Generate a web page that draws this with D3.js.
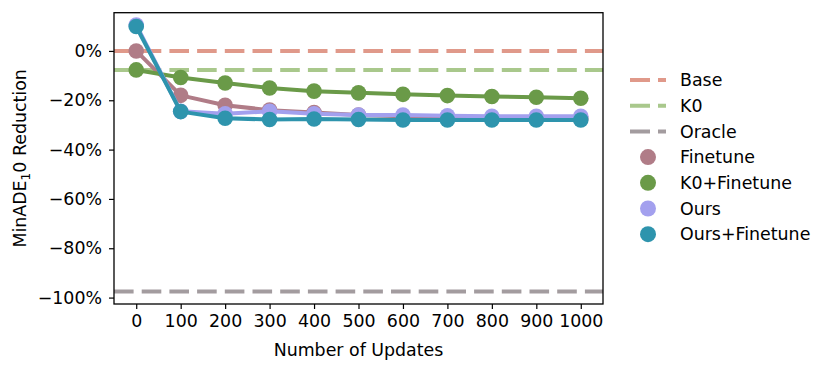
<!DOCTYPE html>
<html>
<head>
<meta charset="utf-8">
<script src="https://cdn.jsdelivr.net/npm/d3@7"></script>
<style>
  body { margin: 0; background: #fff; }
  svg { font-family: "DejaVu Sans", sans-serif; }
</style>
</head>
<body>
<div id="chart"></div>
<script>
// data
const updates = [0, 100, 200, 300, 400, 500, 600, 700, 800, 900, 1000]
const finetune = [0, -18, -22, -24, -25, -26, -26.5, -27, -27, -27, -27.5]
const k0Finetune = [-7.7, -10.8, -13, -15, -16.3, -17, -17.6, -18.1, -18.5, -18.8, -19.2]
const ours = [10.5, -24.5, -25.5, -24.5, -25.5, -26, -26, -26.3, -26.5, -26.5, -26.5]
const oursFinetune = [9.9, -24.6, -27.3, -27.8, -27.6, -27.8, -28, -28, -28, -28, -28]

const baseLevel = 0
const k0Level = -7.7
const oracleLevel = -97.5

const yTicks = [0, -20, -40, -60, -80, -100]

const refLines = [
  {name: "Base", value: baseLevel, color: "#e0998a"},
  {name: "K0", value: k0Level, color: "#a9c88c"},
  {name: "Oracle", value: oracleLevel, color: "#a39c9f"},
]
const series = [
  {name: "Finetune", values: finetune, color: "#b07c87"},
  {name: "K0+Finetune", values: k0Finetune, color: "#6a9a48"},
  {name: "Ours", values: ours, color: "#a3a0ee"},
  {name: "Ours+Finetune", values: oursFinetune, color: "#2e94ad"},
]

const width = 831, height = 371
const margin = {top: 12.7, right: 228, bottom: 67, left: 114}
const fontSize = 17.4
const dash = "19.6,8.1"

const svg = d3.select("#chart").append("svg")
  .attr("width", width)
  .attr("height", height)

const x = d3.scalePoint()
  .domain(updates)
  .range([margin.left, width - margin.right])
  .padding(0.5)

const y = d3.scaleLinear()
  .domain([-102.6, 15.5])
  .range([height - margin.bottom, margin.top])

// axes
const xAxis = svg.append("g")
  .attr("transform", `translate(0,${height - margin.bottom})`)
  .call(d3.axisBottom(x).tickSize(5).tickPadding(6).tickSizeOuter(0))
const yAxis = svg.append("g")
  .attr("transform", `translate(${margin.left},0)`)
  .call(d3.axisLeft(y).tickValues(yTicks).tickSize(5).tickPadding(7)
    .tickFormat(d => (d < 0 ? "\u2212" + Math.abs(d) : d) + "%"))

for (const ax of [xAxis, yAxis]) {
  ax.select(".domain").remove()
  ax.selectAll("line").attr("stroke", "#000").attr("stroke-width", 1.2)
  ax.selectAll("text").attr("font-size", fontSize).attr("fill", "#000")
    .attr("font-family", "DejaVu Sans")
}

// reference lines
const plot = svg.append("g")
svg.append("clipPath").attr("id", "clip").append("rect")
  .attr("x", margin.left).attr("y", margin.top)
  .attr("width", width - margin.right - margin.left)
  .attr("height", height - margin.bottom - margin.top)
plot.attr("clip-path", "url(#clip)")

plot.selectAll(".ref")
  .data(refLines)
  .join("line")
    .attr("class", "ref")
    .attr("x1", margin.left)
    .attr("x2", width - margin.right)
    .attr("y1", d => y(d.value))
    .attr("y2", d => y(d.value))
    .attr("stroke", d => d.color)
    .attr("stroke-width", 4)
    .attr("stroke-dasharray", dash)

// point plots
const line = d3.line().x((d, i) => x(updates[i])).y(d => y(d))
for (const s of series) {
  const g = plot.append("g")
  g.append("path")
    .attr("d", line(s.values))
    .attr("fill", "none")
    .attr("stroke", s.color)
    .attr("stroke-width", 4)
    .attr("stroke-linejoin", "round")
  g.selectAll("circle")
    .data(s.values)
    .join("circle")
      .attr("cx", (d, i) => x(updates[i]))
      .attr("cy", d => y(d))
      .attr("r", 7.8)
      .attr("fill", s.color)
}

// frame
svg.append("rect")
  .attr("x", margin.left).attr("y", margin.top)
  .attr("width", width - margin.right - margin.left)
  .attr("height", height - margin.bottom - margin.top)
  .attr("fill", "none")
  .attr("stroke", "#000")
  .attr("stroke-width", 1.3)

// axis labels
svg.append("text")
  .attr("x", (margin.left + width - margin.right) / 2)
  .attr("y", 356)
  .attr("text-anchor", "middle")
  .attr("font-size", fontSize)
  .text("Number of Updates")

const yl = svg.append("text")
  .attr("transform", `translate(26,${(margin.top + height - margin.bottom) / 2}) rotate(-90)`)
  .attr("text-anchor", "middle")
  .attr("font-size", fontSize)
yl.append("tspan").text("MinADE")
yl.append("tspan").attr("font-size", fontSize * 0.7).attr("dy", 4).text("1")
yl.append("tspan").attr("dy", -4).text("0 Reduction")

// legend
const legend = svg.append("g")
const rowY = i => 80 + i * 25.7
const items = refLines.map(d => ({...d, kind: "line"}))
  .concat(series.map(d => ({...d, kind: "dot"})))

items.forEach((d, i) => {
  const yy = rowY(i)
  if (d.kind === "line") {
    legend.append("line")
      .attr("x1", 630).attr("x2", 666)
      .attr("y1", yy).attr("y2", yy)
      .attr("stroke", d.color)
      .attr("stroke-width", 4)
      .attr("stroke-dasharray", "20,8")
  } else {
    legend.append("circle")
      .attr("cx", 648).attr("cy", yy).attr("r", 8)
      .attr("fill", d.color)
  }
  legend.append("text")
    .attr("x", 680).attr("y", yy)
    .attr("dy", "0.36em")
    .attr("font-size", fontSize)
    .text(d.name)
})
</script>
</body>
</html>
